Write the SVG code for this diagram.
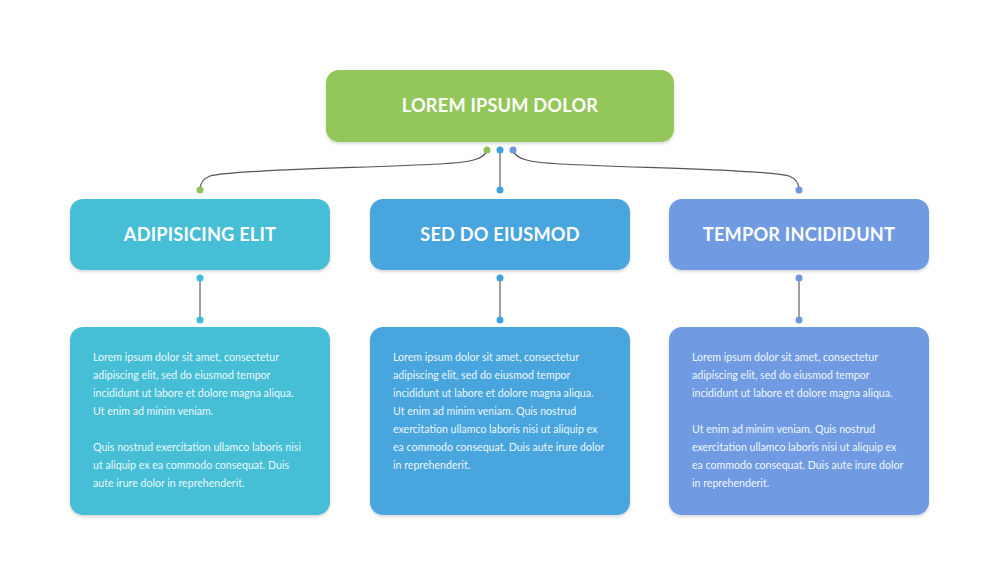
<svg xmlns="http://www.w3.org/2000/svg" width="1000" height="580" viewBox="0 0 1000 580">
<style>
.title{font-family:Lato,"Open Sans",sans-serif;font-weight:700;font-size:18.2px;fill:#fff;text-anchor:middle;letter-spacing:0.2px}
.body{font-family:"Source Sans Pro",Lato,"Noto Sans",sans-serif;font-size:10.6px;fill:#fff;fill-opacity:0.93}
.curve{fill:none;stroke:#555;stroke-width:1.2}
.vline{stroke:#777;stroke-width:1.4}
</style>
<defs>
<filter id="sh" x="-10%" y="-10%" width="120%" height="130%">
<feDropShadow dx="0" dy="2" stdDeviation="1.5" flood-color="#000" flood-opacity="0.15"/>
</filter>
</defs>
<rect width="1000" height="580" fill="#fff"/>
<g id="connectors">
<path class="curve" d="M487,150 C484,160 470,162 440,164 C360,168 230,170 210,176 C202,179 200,184 200,190"/>
<path class="curve" d="M513,150 C516,160 530,162 560,164 C640,168 770,170 789,176 C797,179 799,184 799,190"/>
<line class="vline" x1="500" y1="150" x2="500" y2="190"/>
<line class="vline" x1="200" y1="278" x2="200" y2="320"/>
<line class="vline" x1="500" y1="278" x2="500" y2="320"/>
<line class="vline" x1="799" y1="278" x2="799" y2="320"/>
<circle cx="487" cy="150" r="3.5" fill="#8DC455"/>
<circle cx="500" cy="150" r="3.5" fill="#3FA3E0"/>
<circle cx="513" cy="150" r="3.5" fill="#6E95E0"/>
<circle cx="200" cy="190" r="3.5" fill="#8DC455"/>
<circle cx="500" cy="190" r="3.5" fill="#3FA3E0"/>
<circle cx="799" cy="190" r="3.5" fill="#6E95E0"/>
<circle cx="200" cy="278" r="3.5" fill="#3DBDD8"/>
<circle cx="200" cy="320" r="3.5" fill="#3DBDD8"/>
<circle cx="500" cy="278" r="3.5" fill="#3FA3E0"/>
<circle cx="500" cy="320" r="3.5" fill="#3FA3E0"/>
<circle cx="799" cy="278" r="3.5" fill="#6E95E0"/>
<circle cx="799" cy="320" r="3.5" fill="#6E95E0"/>
</g>
<g id="root">
<rect x="326" y="70" width="348" height="72" rx="13" fill="#93C75A" filter="url(#sh)"/>
<text class="title" x="500" y="112">LOREM IPSUM DOLOR</text>
</g>
<g id="n1">
<rect x="70" y="199" width="260" height="71" rx="13" fill="#44BED6" filter="url(#sh)"/>
<text class="title" x="200" y="241">ADIPISICING ELIT</text>
</g>
<g id="n2">
<rect x="370" y="199" width="260" height="71" rx="13" fill="#49A5DE" filter="url(#sh)"/>
<text class="title" x="500" y="241">SED DO EIUSMOD</text>
</g>
<g id="n3">
<rect x="669" y="199" width="260" height="71" rx="13" fill="#709BE2" filter="url(#sh)"/>
<text class="title" x="799" y="241">TEMPOR INCIDIDUNT</text>
</g>
<g id="d1">
<rect x="70" y="327" width="260" height="188" rx="13" fill="#44BED6" filter="url(#sh)"/>
<text class="body">
<tspan x="93" y="361">Lorem ipsum dolor sit amet, consectetur</tspan>
<tspan x="93" y="379">adipiscing elit, sed do eiusmod tempor</tspan>
<tspan x="93" y="397">incididunt ut labore et dolore magna aliqua.</tspan>
<tspan x="93" y="415">Ut enim ad minim veniam.</tspan>
<tspan x="93" y="451">Quis nostrud exercitation ullamco laboris nisi</tspan>
<tspan x="93" y="469">ut aliquip ex ea commodo consequat. Duis</tspan>
<tspan x="93" y="487">aute irure dolor in reprehenderit.</tspan>
</text>
</g>
<g id="d2">
<rect x="370" y="327" width="260" height="188" rx="13" fill="#49A5DE" filter="url(#sh)"/>
<text class="body">
<tspan x="393" y="361">Lorem ipsum dolor sit amet, consectetur</tspan>
<tspan x="393" y="379">adipiscing elit, sed do eiusmod tempor</tspan>
<tspan x="393" y="397">incididunt ut labore et dolore magna aliqua.</tspan>
<tspan x="393" y="415">Ut enim ad minim veniam. Quis nostrud</tspan>
<tspan x="393" y="433">exercitation ullamco laboris nisi ut aliquip ex</tspan>
<tspan x="393" y="451">ea commodo consequat. Duis aute irure dolor</tspan>
<tspan x="393" y="469">in reprehenderit.</tspan>
</text>
</g>
<g id="d3">
<rect x="669" y="327" width="260" height="188" rx="13" fill="#709BE2" filter="url(#sh)"/>
<text class="body">
<tspan x="692" y="361">Lorem ipsum dolor sit amet, consectetur</tspan>
<tspan x="692" y="379">adipiscing elit, sed do eiusmod tempor</tspan>
<tspan x="692" y="397">incididunt ut labore et dolore magna aliqua.</tspan>
<tspan x="692" y="433">Ut enim ad minim veniam. Quis nostrud</tspan>
<tspan x="692" y="451">exercitation ullamco laboris nisi ut aliquip ex</tspan>
<tspan x="692" y="469">ea commodo consequat. Duis aute irure dolor</tspan>
<tspan x="692" y="487">in reprehenderit.</tspan>
</text>
</g>
</svg>
